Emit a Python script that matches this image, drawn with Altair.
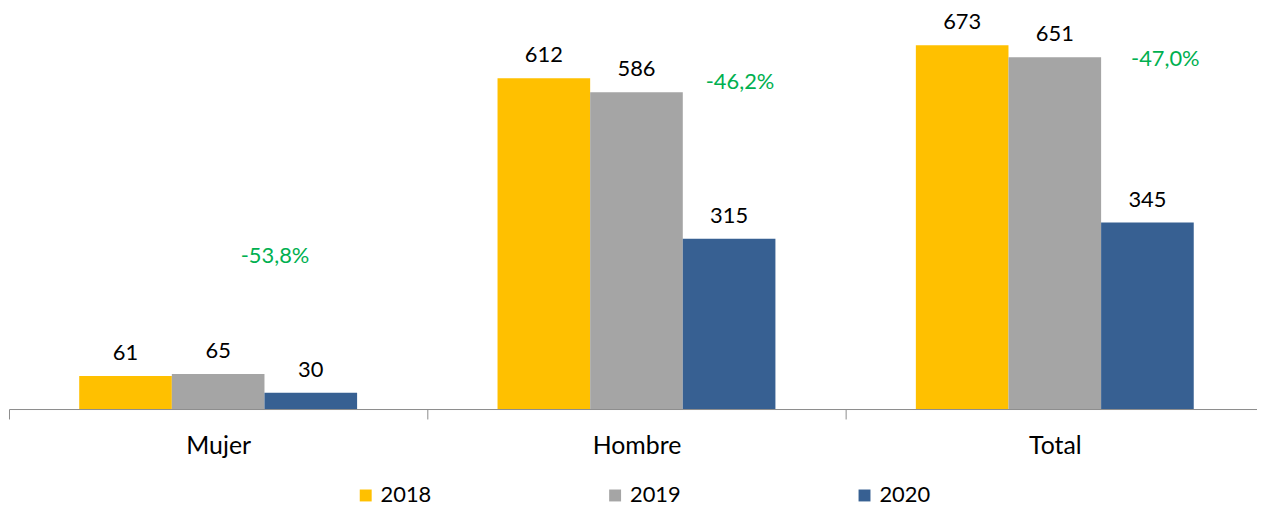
import altair as alt
import pandas as pd

categories = ["Mujer", "Hombre", "Total"]
years = ["2018", "2019", "2020"]
v2018 = [61, 612, 673]
v2019 = [65, 586, 651]
v2020 = [30, 315, 345]
pct_labels = ["-53,8%", "-46,2%", "-47,0%"]
pct_pos = [283, 605, 647]

colors = ["#FFC000", "#A5A5A5", "#376092"]
GREEN = "#00B050"
FONT = "Lato"
FS = 22
AXFS = 25

rows = []
for i, c in enumerate(categories):
    for yr, vals in zip(years, [v2018, v2019, v2020]):
        rows.append({"cat": c, "year": yr, "value": vals[i]})
df = pd.DataFrame(rows)

x = alt.X(
    "cat:N",
    sort=categories,
    scale=alt.Scale(paddingInner=0, paddingOuter=0),
    axis=alt.Axis(
        title=None, labelAngle=0, tickBand="extent", tickSize=10,
        domainColor="#8C8C8C", tickColor="#8C8C8C", labelPadding=15,
        labelFont=FONT, labelFontSize=AXFS, labelColor="#000000", grid=False,
    ),
)
xo = alt.XOffset("year:N", sort=years,
                 scale=alt.Scale(paddingInner=0, paddingOuter=0.758))
y_scale = alt.Scale(domain=[0, 739], nice=False)

bars = alt.Chart(df).mark_bar().encode(
    x=x,
    xOffset=xo,
    y=alt.Y("value:Q", scale=y_scale, axis=None),
    color=alt.Color(
        "year:N", sort=years,
        scale=alt.Scale(domain=years, range=colors),
        legend=alt.Legend(
            title=None, orient="none", direction="horizontal",
            legendX=348, legendY=478, symbolType="square", symbolSize=144,
            symbolStrokeWidth=0, labelFont=FONT, labelFontSize=FS,
            labelColor="#000000", columnPadding=173, labelOffset=4,
        ),
    ),
)

labels = alt.Chart(df).mark_text(
    dy=-16, baseline="alphabetic", font=FONT, fontSize=FS, color="#000000"
).encode(
    x=x, xOffset=xo,
    y=alt.Y("value:Q", scale=y_scale, axis=None),
    text=alt.Text("value:Q"),
)

pct_dx = [-36, 11, 18]
layers = [bars, labels]
for i in range(len(categories)):
    d = pd.DataFrame({"cat": [categories[i]], "year": ["2020"],
                      "pos": [pct_pos[i]], "label": [pct_labels[i]]})
    layers.append(
        alt.Chart(d).mark_text(
            dx=pct_dx[i], baseline="middle", font=FONT, fontSize=FS, color=GREEN
        ).encode(
            x=x, xOffset=xo,
            y=alt.Y("pos:Q", scale=y_scale, axis=None),
            text="label:N",
        )
    )

chart = alt.layer(*layers).properties(
    width=1263, height=402,
    padding={"left": 1, "top": 0, "right": -7, "bottom": 97},
    autosize=alt.AutoSizeParams(type="none"),
).configure_view(stroke=None)

chart.save("out.html", embed_options={"renderer": "svg", "actions": False})
